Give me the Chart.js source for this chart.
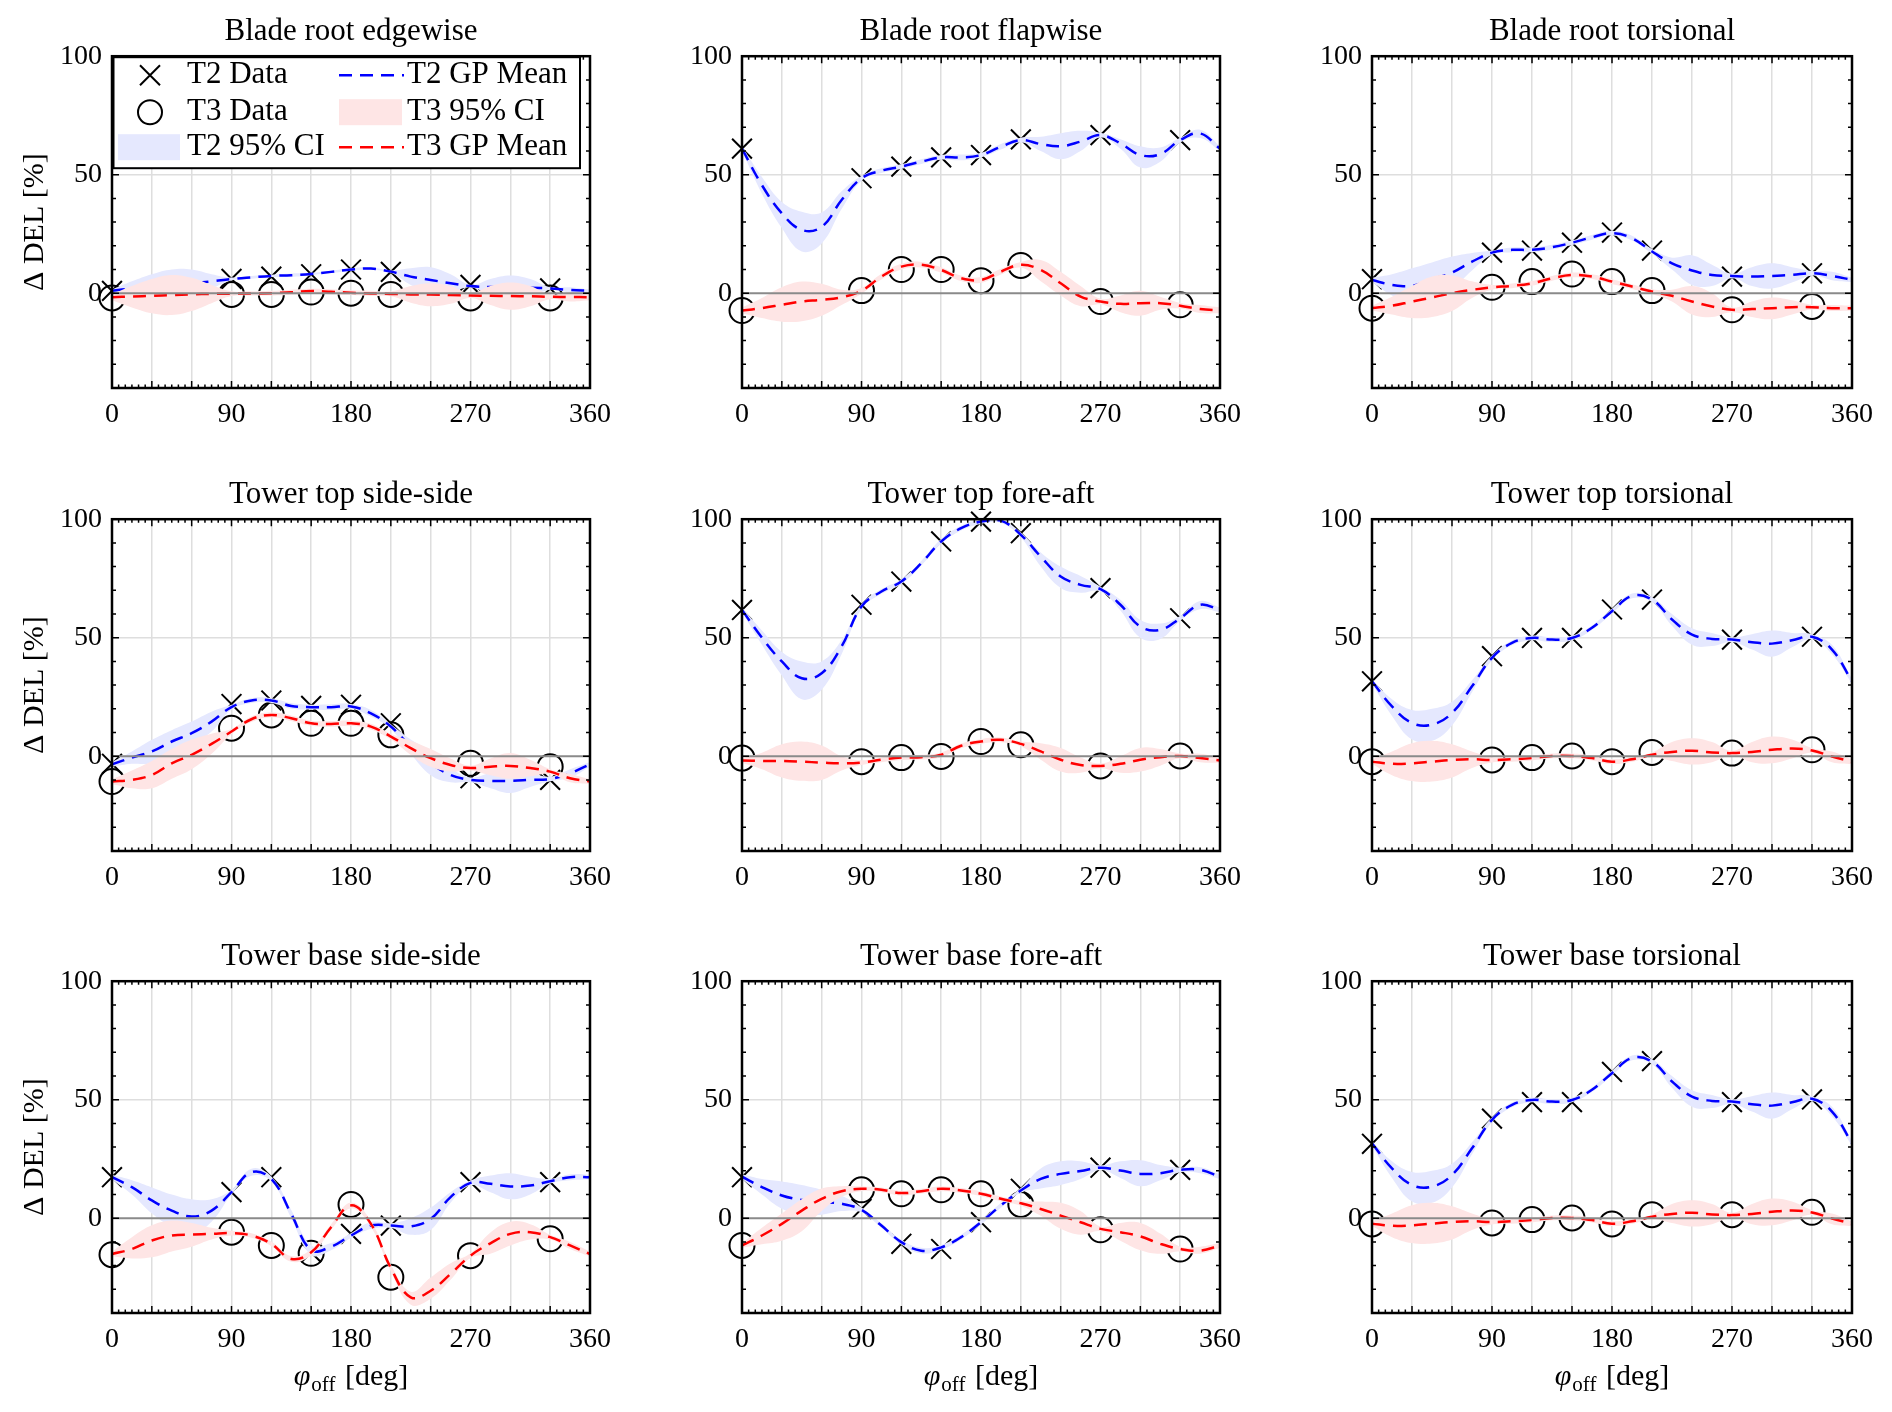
<!DOCTYPE html>
<html>
<head>
<meta charset="utf-8">
<script src="https://cdn.jsdelivr.net/npm/chart.js@4.4.1/dist/chart.umd.min.js"></script>
<style>
  body { margin: 0; background: #fff; }
  #fig { position: relative; width: 1892px; height: 1412px; overflow: hidden; }
  #fig canvas { position: absolute; }
</style>
</head>
<body>
<div id="fig"></div>
<script>
// x grid of the GP curves and the offsets that were simulated
const angles = [0, 15, 30, 45, 60, 75, 90, 105, 120, 135, 150, 165, 180, 195, 210, 225, 240, 255, 270, 285, 300, 315, 330, 345, 360];
const runAngles = [0, 90, 120, 150, 180, 210, 270, 330];
const titles = ['Blade root edgewise', 'Blade root flapwise', 'Blade root torsional',
                'Tower top side-side', 'Tower top fore-aft', 'Tower top torsional',
                'Tower base side-side', 'Tower base fore-aft', 'Tower base torsional'];

// Blade root edgewise
const breT2 = [1, 6, 7, 8, 10, 9, 3.5, 2];
const breT3 = [-2, -0.5, -0.5, 0.5, 0, -0.5, -2, -2];
const breT2Mean = [1, 2, 2.8, 3.5, 4.2, 5, 6, 6.7, 7.3, 7.6, 8.1, 9, 10, 10.4, 9.1, 7, 5.6, 4.2, 3, 2.6, 2.5, 2.3, 2, 1.4, 1];
const breT2Hi = [1.5, 5, 8, 10, 10, 8, 6.6, 7.3, 7.8, 8.3, 8.6, 9.5, 10.5, 11, 9.6, 10.5, 11, 8, 3.5, 6, 7.5, 6, 2.5, 2.5, 1.5];
const breT2Lo = [0.5, -1, -2.4, -3, -1.6, 2, 5.4, 6.1, 6.8, 6.9, 7.6, 8.5, 9.5, 9.8, 8.6, 3.5, 0.2, 0.4, 2.5, -0.8, -2.5, -1.4, 1.5, 0.3, 0.5];
const breT3Mean = [-1.7, -1.4, -1.1, -0.8, -0.5, -0.3, -0.2, -0.1, 0, 0.4, 0.9, 0.6, 0.2, -0.1, -0.3, -0.5, -0.6, -0.8, -1, -1.1, -1.2, -1.3, -1.5, -1.6, -1.7];
const breT3Hi = [-0.5, 3, 6, 7.7, 6.5, 3.5, 0.8, 0.8, 1, 1.5, 1.9, 1.7, 1.2, 1, 0.7, 3, 4.2, 3, 0, 3, 4.5, 3, -0.5, 0.5, -0.5];
const breT3Lo = [-3, -6, -8.5, -9.2, -7.5, -4.2, -1.2, -1, -1, -0.7, -0.1, -0.5, -0.8, -1.2, -1.3, -4, -5.5, -4.5, -2, -5, -7, -5.5, -2.5, -3.5, -3];

// Blade root flapwise
const brfT2 = [61, 48.5, 53.4, 57.3, 58.3, 64.9, 66.7, 64.6];
const brfT3 = [-7.3, 1.1, 10, 10, 5.3, 11.7, -3.5, -4.9];
const brfT2Mean = [61, 45.6, 33.7, 26.7, 28, 39.3, 48.5, 51.7, 53.4, 55.5, 57.3, 57.3, 58.3, 61.8, 64.6, 62.9, 62, 64, 66.7, 63.2, 58.3, 58.7, 64.6, 67.4, 61];
const brfT2Hi = [62, 49, 38.5, 34.4, 34, 43, 49.5, 52.7, 54.4, 56.5, 58.3, 58.5, 59.3, 63, 65.6, 66, 67.5, 68.5, 67.7, 65, 62, 61.5, 65.6, 69, 62];
const brfT2Lo = [60, 42, 27.5, 17.6, 21, 35.5, 47.5, 50.7, 52.4, 54.5, 56.3, 56.1, 57.3, 60.6, 63.6, 60, 56.5, 60, 65.7, 61, 53, 55.5, 63.6, 65.5, 60];
const brfT3Mean = [-7.3, -6.3, -4.9, -3.5, -2.8, -1.7, 1, 7, 11.2, 12, 9.8, 6.3, 5.6, 9.1, 12, 9.8, 4.2, -1.4, -3.5, -4.5, -4.2, -4.2, -5.3, -6.7, -7.3];
const brfT3Hi = [-6, -2, 2.5, 4.9, 4, 1.5, 2.2, 8.2, 12.4, 13.2, 11, 7.5, 6.8, 10.3, 13.2, 14, 9, 3, -2.3, -1, 1, -1.5, -4.1, -5, -6];
const brfT3Lo = [-8.5, -10.5, -12, -11.8, -9.5, -5, -0.2, 5.8, 10, 10.8, 8.6, 5.1, 4.4, 7.9, 10.8, 5, -1, -5.5, -4.7, -8, -9.5, -7, -6.5, -8.4, -8.5];

// Blade root torsional
const brtT2 = [5.9, 17.1, 18, 21.3, 25.6, 18, 7, 8.4];
const brtT3 = [-6.3, 2.5, 4.9, 8.1, 4.9, 1.1, -7, -5.6];
const brtT2Mean = [5.6, 3.5, 3.1, 5.9, 8.7, 13.3, 17.1, 18.3, 18.3, 19.4, 21.3, 23.6, 25.3, 23.2, 17.6, 12.6, 9.6, 7.7, 7.3, 7, 7.3, 7.7, 8.4, 7.3, 5.6];
const brtT2Hi = [6.5, 8, 10.5, 13, 15.5, 17, 18, 19.3, 19.3, 20.4, 22.3, 24.6, 26.3, 24.2, 18.6, 15, 16, 12, 8.3, 11, 12.6, 11, 9.4, 9, 6.5];
const brtT2Lo = [4.7, -1, -4.3, -1.2, 1.9, 9.6, 16.2, 17.3, 17.3, 18.4, 20.3, 22.6, 24.3, 22.2, 16.6, 10, 3.5, 3, 6.3, 3, 2, 4.5, 7.4, 5.5, 4.7];
const brtT3Mean = [-6.3, -5.3, -3.5, -1.8, 0, 1.4, 2.5, 3.1, 4.2, 6.3, 7.7, 7, 4.9, 2.8, 0.7, -1.1, -3.5, -5.6, -7, -6.7, -6.3, -5.9, -5.9, -6.3, -6.3];
const brtT3Hi = [-5.3, -1.5, 3, 7, 7.5, 5, 3.5, 4.1, 5.2, 7.3, 8.7, 8, 5.9, 3.8, 1.7, 1.5, 3, 0, -6, -3.5, -1.8, -3, -4.9, -5, -5.3];
const brtT3Lo = [-7.3, -9, -10.5, -10, -7.5, -2, 1.5, 2.1, 3.2, 5.3, 6.7, 6, 3.9, 1.8, -0.3, -3.5, -9, -10, -8, -10, -11, -9, -6.9, -7.5, -7.3];

// Tower top side-side
const ttsT2 = [-3.2, 22, 23.5, 21.2, 21.7, 13.9, -9.3, -10];
const ttsT3 = [-10.7, 11.8, 17.4, 13.9, 13.9, 9, -3, -4.4];
const ttsT2Mean = [-3.4, -0.6, 2, 6.2, 9.7, 14.6, 20.7, 23.5, 23.5, 21.2, 20.7, 20.7, 21, 18.1, 12.5, 4, -3, -7.9, -10, -10.4, -10.4, -10, -9.6, -7.2, -3.4];
const ttsT2Hi = [-2.4, 2, 6.9, 11, 14.6, 18.8, 21.7, 24.5, 24.5, 22.4, 21.7, 21.9, 22, 19.5, 13.5, 7, 2, -5, -9, -7, -5.5, -7, -8.6, -5.5, -2.4];
const ttsT2Lo = [-4.4, -3.2, -2.9, 1.4, 4.8, 10.4, 19.7, 22.5, 22.5, 20, 19.7, 19.5, 20, 16.7, 11.5, 1, -8, -11, -11, -13.5, -15.5, -13, -10.6, -9, -4.4];
const ttsT3Mean = [-10.7, -10, -7.9, -3, 0.6, 5.2, 10.4, 15.6, 17.4, 16, 13.9, 13.6, 13.9, 12.5, 8.3, 3.4, -0.8, -3.7, -5, -4.4, -4.1, -5, -6.5, -9.3, -10.7];
const ttsT3Hi = [-9.7, -6, -2, 3, 7, 9.5, 11.5, 16.8, 18.4, 17.2, 15, 14.8, 15, 13.7, 9.5, 6.5, 3, -1, -4, -1, 1.3, -1.5, -5.5, -7.5, -9.7];
const ttsT3Lo = [-11.7, -13.5, -13.5, -9.5, -5.5, 1, 9.3, 14.4, 16.4, 14.8, 12.8, 12.4, 12.8, 11.3, 7.1, 0.5, -4.5, -6.5, -6, -8, -9.5, -8.5, -7.5, -11, -11.7];

// Tower top fore-aft
const ttfT2 = [61.7, 63.9, 73.7, 90.6, 99, 94.1, 70.9, 58.2];
const ttfT3 = [-0.8, -2.3, -0.6, -0.1, 6.2, 4.8, -4.1, 0.1];
const ttfT2Mean = [61.7, 50, 40, 32.9, 35, 46.3, 63.2, 69.5, 73.7, 81.4, 90.6, 96.2, 99, 99.4, 93.4, 84.2, 75.8, 72.3, 70.5, 63.9, 54.7, 53.3, 58.2, 63.9, 61.7];
const ttfT2Hi = [62.7, 53, 44, 40, 40, 49, 64.2, 70.5, 74.7, 82.4, 91.6, 97.2, 100, 100, 94.4, 86, 80, 76, 71.5, 66, 57.5, 56, 59.2, 65.5, 62.7];
const ttfT2Lo = [60.7, 47, 34, 24, 28, 43, 62.2, 68.5, 72.7, 80.4, 89.6, 95.2, 98, 98.4, 92.4, 80, 71, 69, 69.5, 61.5, 50, 49.5, 57.2, 62, 60.7];
const ttfT3Mean = [-1.8, -2, -2, -2.3, -2.7, -3, -2.7, -1.5, -0.6, -0.4, 0.6, 4.4, 6.2, 6.9, 5.2, 2, -1.5, -3.7, -4.1, -3.2, -1.5, -0.4, 0.1, -0.8, -1.8];
const ttfT3Hi = [-0.8, 1.5, 5, 6.2, 4.5, 0, -1.7, -0.5, 0.4, 0.6, 1.6, 5.4, 7.2, 7.9, 6.2, 5.5, 3.5, -0.5, -3.1, 0, 3.5, 3, 1.1, 1, -0.8];
const ttfT3Lo = [-2.8, -5.5, -9, -10.4, -10, -6, -3.7, -2.5, -1.6, -1.4, -0.4, 3.4, 5.2, 5.9, 4.2, -1.5, -6.5, -7, -5.1, -7, -6.5, -4, -0.9, -2.5, -2.8];

// Tower top torsional
const tttT2 = [31.6, 42.2, 49.9, 49.9, 61.9, 66.1, 49.2, 50.4];
const tttT3 = [-2.3, -1.6, -0.6, 0.1, -2.3, 1.6, 1.3, 2.7];
const tttT2Mean = [31.6, 21, 14, 13.3, 18.2, 29.5, 41.5, 47.8, 49.9, 49.2, 49.9, 54.2, 61.2, 67.6, 66.1, 57.7, 51.3, 49.5, 49.2, 48.1, 47.5, 48.9, 50.4, 45, 31.6];
const tttT2Hi = [32.6, 24, 19.5, 20, 23, 32, 42.5, 48.8, 50.9, 50.2, 50.9, 55.2, 62.2, 68.6, 67.1, 60, 54, 52, 50.2, 51.5, 53, 52, 51.4, 47, 32.6];
const tttT2Lo = [30.6, 17, 7, 6.5, 13, 27, 40.5, 46.8, 48.9, 48.2, 48.9, 53.2, 60.2, 66.6, 65.1, 55, 47, 46.5, 48.2, 45, 42, 46, 49.4, 43, 30.6];
const tttT3Mean = [-2.3, -3.2, -3, -2.3, -1.6, -1.3, -1.6, -1.3, -0.8, 0.1, 0.1, -0.8, -2.3, -1.3, 0.6, 1.8, 2.3, 1.6, 1.3, 1.8, 2.7, 3.2, 2.4, -0.1, -2.3];
const tttT3Hi = [-1.3, 2, 5.5, 6.5, 5, 2, -0.5, -0.3, 0.2, 1.1, 1.1, 0.2, -1.3, -0.3, 1.6, 6, 7.6, 6, 2.3, 6, 8.3, 7, 3.4, 2, -1.3];
const tttT3Lo = [-3.3, -8, -10.5, -10.7, -9, -5, -2.7, -2.3, -1.8, -0.9, -0.9, -1.8, -3.3, -2.3, -0.4, -2, -3.5, -2.5, 0.3, -2.5, -3, -1, 1.4, -2.5, -3.3];

// Tower base side-side
const tbsT2 = [17.3, 11, 17.3, -14.4, -6.6, -3.1, 15.2, 15.2];
const tbsT3 = [-15.4, -5.9, -11.5, -14.8, 5.8, -24.9, -15.8, -8.7];
const tbsT2Mean = [17.3, 13.1, 7.5, 3.2, 0.7, 3.2, 11, 19.4, 16.6, 1.8, -13.5, -12, -7.3, -3.1, -3.1, -3.5, -0.3, 8.9, 14.9, 14.5, 13.4, 13.8, 15.6, 17.3, 17.3];
const tbsT2Hi = [18.3, 16, 13, 10, 8, 8, 12, 20.9, 17.6, 3.5, -11.5, -10.5, -6.3, -1.6, -2.1, 0, 4.5, 11, 15.9, 18, 19, 17.5, 16.6, 18.5, 18.3];
const tbsT2Lo = [16.3, 10, 2, -3.5, -6.5, -1.5, 10, 17.9, 15.6, 0, -15.5, -13.5, -8.3, -4.6, -4.1, -7, -5, 6.5, 13.9, 11, 8, 10, 14.6, 16, 16.3];
const tbsT3Mean = [-15.1, -13, -9.4, -7.3, -6.9, -6.6, -6.3, -7.3, -10.8, -17.2, -14.4, -3.8, 5.4, -2.4, -21, -33.4, -30.6, -23.5, -15.8, -10.6, -6.6, -5.9, -8, -11.5, -15.1];
const tbsT3Hi = [-14.1, -8, -3, -1, -2, -4, -5.3, -6.3, -9.8, -16, -13.2, -2.6, 6.6, -1.2, -19.5, -31, -25, -19, -14.8, -6, -1.5, -2.5, -7, -10, -14.1];
const tbsT3Lo = [-16.1, -17, -16.5, -14, -12, -9, -7.3, -8.3, -11.8, -18.4, -15.6, -5, 4.2, -3.6, -22.5, -36.5, -34, -26, -16.8, -15, -11.5, -9, -9, -13, -16.1];

// Tower base fore-aft
const tbfT2 = [17.3, 3.9, -10.8, -13, -1.7, 12.4, 21.3, 20.4];
const tbfT3 = [-11.5, 12, 10.3, 12, 10.3, 5.8, -4.9, -13];
const tbfT2Mean = [17.5, 13.1, 9.6, 7.7, 6.8, 6.1, 3.5, -3.1, -10.1, -13.7, -12.3, -8, -1.7, 5.4, 11.7, 16.6, 18.7, 19.9, 21.3, 20.1, 18.7, 19, 20.4, 20.4, 17.5];
const tbfT2Hi = [18.5, 16.5, 15.5, 14, 12, 9.5, 4.5, -2.1, -9.1, -12.5, -11.3, -7, -0.7, 6.4, 12.7, 21, 24, 24, 22.3, 24, 24.5, 22.5, 21.4, 21.5, 18.5];
const tbfT2Lo = [16.5, 10, 4, 1.5, 1.5, 3, 2.5, -4.1, -11.1, -14.9, -13.3, -9, -2.7, 4.4, 10.7, 12.5, 14, 16.5, 20.3, 17, 13.5, 16, 19.4, 19, 16.5];
const tbfT3Mean = [-11.5, -7.3, -2.4, 3.2, 8.2, 11.4, 12.4, 12, 10.6, 11.4, 12.4, 11.7, 10.3, 8.2, 6.3, 3.9, 1.1, -1.7, -4.5, -5.9, -7.7, -10.8, -13, -13.7, -11.5];
const tbfT3Hi = [-10.5, -4, 2, 8, 12.5, 13.5, 13.4, 13, 11.6, 12.4, 13.4, 12.7, 11.3, 9.2, 7.3, 7, 6.5, 3, -3.5, -2, -2, -6.5, -12, -12, -10.5];
const tbfT3Lo = [-12.5, -11, -9.5, -5.5, 3, 9, 11.4, 11, 9.6, 10.4, 11.4, 10.7, 9.3, 7.2, 5.3, 1, -4.5, -7, -5.5, -9.5, -13.5, -15, -14, -15, -12.5];

// Tower base torsional
const tbtT2 = [31.4, 42, 49, 49, 61.7, 66.3, 49, 50.1];
const tbtT3 = [-2.4, -2, -0.6, 0.1, -2.4, 1.5, 1.5, 2.5];
const tbtT2Mean = [31.6, 21, 14, 13.3, 18.2, 29.5, 41.5, 47.8, 49.9, 49.2, 49.9, 54.2, 61.2, 67.6, 66.1, 57.7, 51.3, 49.5, 49.2, 48.1, 47.5, 48.9, 50.4, 45, 31.6];
const tbtT2Hi = [32.6, 24, 19.5, 20, 23, 32, 42.5, 48.8, 50.9, 50.2, 50.9, 55.2, 62.2, 68.6, 67.1, 60, 54, 52, 50.2, 51.5, 53, 52, 51.4, 47, 32.6];
const tbtT2Lo = [30.6, 17, 7, 6.5, 13, 27, 40.5, 46.8, 48.9, 48.2, 48.9, 53.2, 60.2, 66.6, 65.1, 55, 47, 46.5, 48.2, 45, 42, 46, 49.4, 43, 30.6];
const tbtT3Mean = [-2.3, -3.2, -3, -2.3, -1.6, -1.3, -1.6, -1.3, -0.8, 0.1, 0.1, -0.8, -2.3, -1.3, 0.6, 1.8, 2.3, 1.6, 1.3, 1.8, 2.7, 3.2, 2.4, -0.1, -2.3];
const tbtT3Hi = [-1.3, 2, 5.5, 6.5, 5, 2, -0.5, -0.3, 0.2, 1.1, 1.1, 0.2, -1.3, -0.3, 1.6, 6, 7.6, 6, 2.3, 6, 8.3, 7, 3.4, 2, -1.3];
const tbtT3Lo = [-3.3, -8, -10.5, -10.7, -9, -5, -2.7, -2.3, -1.8, -0.9, -0.9, -1.8, -3.3, -2.3, -0.4, -2, -3.5, -2.5, 0.3, -2.5, -3, -1, 1.4, -2.5, -3.3];

const panels = [
  [breT2, breT3, breT2Mean, breT2Lo, breT2Hi, breT3Mean, breT3Lo, breT3Hi],
  [brfT2, brfT3, brfT2Mean, brfT2Lo, brfT2Hi, brfT3Mean, brfT3Lo, brfT3Hi],
  [brtT2, brtT3, brtT2Mean, brtT2Lo, brtT2Hi, brtT3Mean, brtT3Lo, brtT3Hi],
  [ttsT2, ttsT3, ttsT2Mean, ttsT2Lo, ttsT2Hi, ttsT3Mean, ttsT3Lo, ttsT3Hi],
  [ttfT2, ttfT3, ttfT2Mean, ttfT2Lo, ttfT2Hi, ttfT3Mean, ttfT3Lo, ttfT3Hi],
  [tttT2, tttT3, tttT2Mean, tttT2Lo, tttT2Hi, tttT3Mean, tttT3Lo, tttT3Hi],
  [tbsT2, tbsT3, tbsT2Mean, tbsT2Lo, tbsT2Hi, tbsT3Mean, tbsT3Lo, tbsT3Hi],
  [tbfT2, tbfT3, tbfT2Mean, tbfT2Lo, tbfT2Hi, tbfT3Mean, tbfT3Lo, tbfT3Hi],
  [tbtT2, tbtT3, tbtT2Mean, tbtT2Lo, tbtT2Hi, tbtT3Mean, tbtT3Lo, tbtT3Hi]
];

const SERIF = '"Liberation Serif", "DejaVu Serif", serif';
const BLUE = '#0000ff', RED = '#ff0000';
const BLUE_CI = 'rgb(229, 232, 254)', PINK_CI = 'rgb(254, 229, 229)';
const GRID = '#dedede';
const DASH = [13, 8];

// page geometry (plot areas)
const plotLeft = [112, 742, 1372];
const plotWidth = [478, 478, 480];
const plotTop = [56, 519, 981];
const plotHeight = 332;
const leftMargin = 112, topMargin = 56, rightMargin = 40;

// frame, inward ticks and the zero line, drawn over the data like MATLAB
const axesBox = {
  id: 'axesBox',
  afterDatasetsDraw(chart) {
    const {ctx, chartArea: a, scales: {x, y}} = chart;
    ctx.save();
    const y0 = y.getPixelForValue(0);
    ctx.strokeStyle = '#8a8a8a';
    ctx.lineWidth = 2;
    ctx.beginPath();
    ctx.moveTo(a.left, y0);
    ctx.lineTo(a.right, y0);
    ctx.stroke();

    ctx.strokeStyle = '#000';
    ctx.lineWidth = 1.5;
    ctx.beginPath();
    for (let v = 0; v <= 360; v += 5) {
      const px = x.getPixelForValue(v);
      const len = v % 30 === 0 ? 7 : 3.5;
      ctx.moveTo(px, a.bottom); ctx.lineTo(px, a.bottom - len);
      ctx.moveTo(px, a.top); ctx.lineTo(px, a.top + len);
    }
    for (let v = -40; v <= 100; v += 10) {
      const py = y.getPixelForValue(v);
      const len = v % 50 === 0 ? 7 : 4;
      ctx.moveTo(a.left, py); ctx.lineTo(a.left + len, py);
      ctx.moveTo(a.right, py); ctx.lineTo(a.right - len, py);
    }
    ctx.stroke();
    ctx.lineWidth = 2.5;
    ctx.strokeRect(a.left, a.top, a.right - a.left, a.bottom - a.top);
    ctx.restore();
  }
};

function drawCross(ctx, cx, cy) {
  ctx.beginPath();
  ctx.moveTo(cx - 10, cy - 10); ctx.lineTo(cx + 10, cy + 10);
  ctx.moveTo(cx - 10, cy + 10); ctx.lineTo(cx + 10, cy - 10);
  ctx.stroke();
}

// legend box of the first panel (two columns, inside the axes)
const legendBox = {
  id: 'legendBox',
  afterDraw(chart) {
    const {ctx, chartArea: a} = chart;
    const L = a.left, T = a.top;
    const rows = [T + 19, T + 56, T + 91];
    ctx.save();
    ctx.fillStyle = '#fff';
    ctx.fillRect(L + 1.5, T + 1, a.right - L - 11.5, 111);
    ctx.strokeStyle = '#000';
    ctx.lineWidth = 2;
    ctx.strokeRect(L + 1.5, T + 1, a.right - L - 11.5, 111);

    ctx.lineWidth = 2;
    drawCross(ctx, L + 38, rows[0]);
    ctx.beginPath();
    ctx.arc(L + 38, rows[1], 12, 0, Math.PI * 2);
    ctx.stroke();
    ctx.fillStyle = BLUE_CI;
    ctx.fillRect(L + 6, rows[2] - 13, 62, 26);
    ctx.fillStyle = PINK_CI;
    ctx.fillRect(L + 227, rows[1] - 13, 63, 26);

    ctx.lineWidth = 2.5;
    ctx.setLineDash(DASH);
    ctx.strokeStyle = BLUE;
    ctx.beginPath(); ctx.moveTo(L + 227, rows[0]); ctx.lineTo(L + 292, rows[0]); ctx.stroke();
    ctx.strokeStyle = RED;
    ctx.beginPath(); ctx.moveTo(L + 227, rows[2]); ctx.lineTo(L + 292, rows[2]); ctx.stroke();
    ctx.setLineDash([]);

    ctx.fillStyle = '#000';
    ctx.font = `31px ${SERIF}`;
    ctx.textBaseline = 'middle';
    ctx.fillText('T2 Data', L + 75, rows[0]);
    ctx.fillText('T3 Data', L + 75, rows[1]);
    ctx.fillText('T2 95% CI', L + 75, rows[2]);
    ctx.fillText('T2 GP Mean', L + 295, rows[0]);
    ctx.fillText('T3 95% CI', L + 295, rows[1]);
    ctx.fillText('T3 GP Mean', L + 295, rows[2]);
    ctx.restore();
  }
};

// x label with the subscript of phi_off (bottom row only)
const xTitle = {
  id: 'xTitle',
  afterDraw(chart) {
    const {ctx, chartArea: a} = chart;
    const cx = (a.left + a.right) / 2, base = a.bottom + 72;
    const ital = `italic 30px ${SERIF}`, sub = `21px ${SERIF}`, main = `30px ${SERIF}`;
    ctx.save();
    ctx.fillStyle = '#000';
    ctx.textBaseline = 'alphabetic';
    ctx.font = ital; const w1 = ctx.measureText('φ').width;
    ctx.font = sub; const w2 = ctx.measureText('off').width;
    ctx.font = main; const w3 = ctx.measureText(' [deg]').width;
    const x0 = cx - (w1 + w2 + w3 + 3) / 2;
    ctx.font = ital; ctx.fillText('φ', x0, base);
    ctx.font = sub; ctx.fillText('off', x0 + w1 + 1, base + 6);
    ctx.font = main; ctx.fillText(' [deg]', x0 + w1 + w2 + 3, base);
    ctx.restore();
  }
};

function curve(ys) { return angles.map((a, i) => ({x: a, y: ys[i]})); }
function runs(ys) { return runAngles.map((a, i) => ({x: a, y: ys[i]})); }

const fig = document.getElementById('fig');
panels.forEach((p, i) => {
  const [t2, t3, t2Mean, t2Lo, t2Hi, t3Mean, t3Lo, t3Hi] = p;
  const row = Math.floor(i / 3), col = i % 3;
  const xAxisHeight = row === 2 ? 98 : 62;
  const canvas = document.createElement('canvas');
  const w = leftMargin + plotWidth[col] + rightMargin;
  const h = topMargin + plotHeight + xAxisHeight;
  canvas.width = w; canvas.height = h;
  canvas.style.width = w + 'px'; canvas.style.height = h + 'px';
  canvas.style.left = (plotLeft[col] - leftMargin) + 'px';
  canvas.style.top = (plotTop[row] - topMargin) + 'px';
  fig.appendChild(canvas);

  const extra = [axesBox];
  if (i === 0) extra.push(legendBox);
  if (row === 2) extra.push(xTitle);

  const band = {borderWidth: 0, borderColor: 'transparent', pointRadius: 0, tension: 0.4};
  const mean = {borderWidth: 2.5, borderDash: DASH, pointRadius: 0, tension: 0.4, fill: false};

  new Chart(canvas, {
    type: 'line',
    data: {
      datasets: [
        {label: 'T2 lower', data: curve(t2Lo), fill: false, order: 8, ...band},
        {label: 'T2 95% CI', data: curve(t2Hi), fill: '-1', backgroundColor: BLUE_CI, order: 7, ...band},
        {label: 'T3 lower', data: curve(t3Lo), fill: false, order: 5, ...band},
        {label: 'T3 95% CI', data: curve(t3Hi), fill: '-1', backgroundColor: PINK_CI, order: 4, ...band},
        {label: 'T2 GP Mean', data: curve(t2Mean), borderColor: BLUE, order: 6, ...mean},
        {label: 'T3 GP Mean', data: curve(t3Mean), borderColor: RED, order: 3, ...mean},
        {label: 'T2 Data', data: runs(t2), showLine: false, pointStyle: 'crossRot', pointRadius: 14,
         borderColor: '#000', pointBorderWidth: 2, order: 10, clip: false},
        {label: 'T3 Data', data: runs(t3), showLine: false, pointStyle: 'circle', pointRadius: 12.5,
         borderColor: '#000', backgroundColor: 'transparent', pointBorderWidth: 2, order: 9, clip: false}
      ]
    },
    plugins: extra,
    options: {
      responsive: false,
      animation: false,
      events: [],
      layout: {padding: {left: 0, right: rightMargin, top: 0, bottom: 0}},
      plugins: {
        legend: {display: false},
        tooltip: {enabled: false},
        title: {
          display: true, fullSize: false, text: titles[i], color: '#000',
          font: {family: SERIF, size: 31, weight: 'normal'},
          padding: {top: 13, bottom: 6}
        }
      },
      scales: {
        x: {
          type: 'linear', min: 0, max: 360,
          afterFit: s => { s.height = xAxisHeight; },
          border: {display: false},
          grid: {
            drawTicks: false, lineWidth: 1.5,
            color: c => (c.tick.value > 0 && c.tick.value < 360) ? GRID : 'transparent'
          },
          ticks: {
            stepSize: 30, autoSkip: false, maxRotation: 0, padding: 10, color: '#000',
            font: {family: SERIF, size: 28},
            callback: v => (v % 90 === 0 ? v : '')
          }
        },
        y: {
          min: -40, max: 100,
          afterFit: s => { s.width = leftMargin; },
          border: {display: false},
          grid: {
            drawTicks: false, lineWidth: 1.5,
            color: c => (c.tick.value === 50 ? GRID : 'transparent')
          },
          ticks: {
            stepSize: 50, padding: 10, color: '#000',
            font: {family: SERIF, size: 28},
            callback: v => (v === -40 ? '' : v)
          },
          title: {
            display: col === 0, text: 'Δ DEL [%]', color: '#000',
            font: {family: SERIF, size: 30}, padding: {top: 17}
          }
        }
      }
    }
  });
});
</script>
</body>
</html>
